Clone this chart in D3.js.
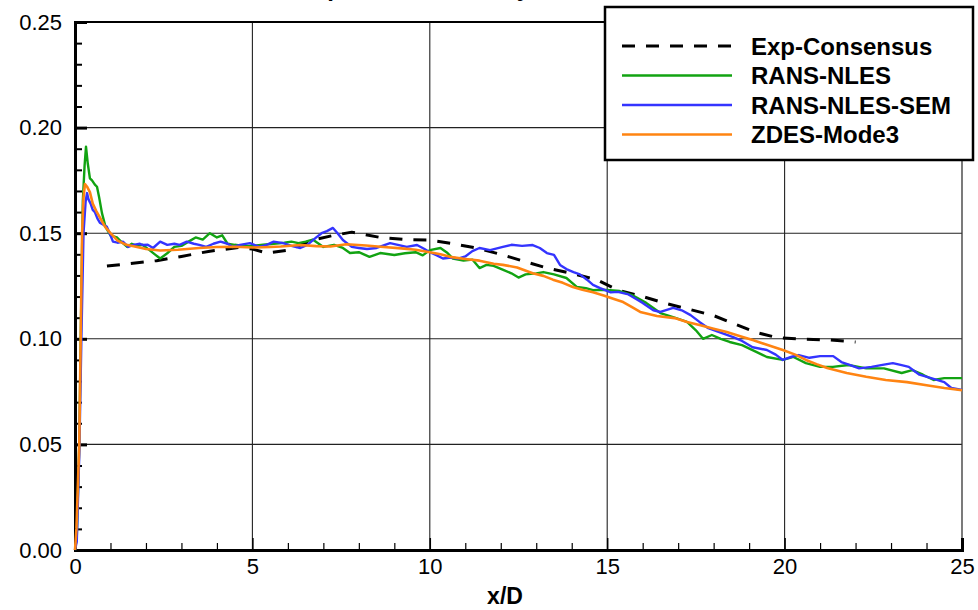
<!DOCTYPE html>
<html>
<head>
<meta charset="utf-8">
<script src="https://cdn.jsdelivr.net/npm/d3@7"></script>
<style>
  body { margin: 0; background: #fff; }
  svg { display: block; font-family: "Liberation Sans", Arial, Helvetica, sans-serif; }
</style>
</head>
<body>
<div id="chart"></div>
<script>
// tick values
var xTicks = [0, 5, 10, 15, 20, 25];
var xMinor = [1, 2, 3, 4, 6, 7, 8, 9, 11, 12, 13, 14, 16, 17, 18, 19, 21, 22, 23, 24];
var yTicks = [0, 0.05, 0.10, 0.15, 0.20, 0.25];
var yMinor = [0.01, 0.02, 0.03, 0.04, 0.06, 0.07, 0.08, 0.09, 0.11, 0.12, 0.13, 0.14,
              0.16, 0.17, 0.18, 0.19, 0.21, 0.22, 0.23, 0.24];

var seriesNames = ["Exp-Consensus", "RANS-NLES", "RANS-NLES-SEM", "ZDES-Mode3"];

// [x/D, value]
var expConsensus = [[0.9,0.1345],[1.5,0.1355],[2.3,0.137],[3.0,0.139],[3.8,0.1415],[4.6,0.1432],
  [5.0,0.1425],[5.4,0.1406],[6.0,0.142],[6.7,0.1468],[7.3,0.149],[7.8,0.1505],[8.6,0.148],
  [9.3,0.147],[10.0,0.1468],[10.6,0.1452],[11.3,0.143],[12.0,0.140],[12.6,0.137],[13.3,0.1335],
  [14.0,0.131],[14.7,0.128],[15.3,0.123],[16.0,0.120],[16.6,0.117],[17.3,0.114],[18.0,0.111],
  [18.6,0.107],[19.2,0.103],[19.8,0.1005],[20.5,0.0998],[21.3,0.0994],[22.0,0.0985]];

var ransNles = [[0,0],[0.05,0.006],[0.12,0.05],[0.17,0.11],[0.22,0.165],[0.27,0.182],[0.31,0.191],
  [0.36,0.183],[0.42,0.176],[0.48,0.175],[0.56,0.173],[0.62,0.172],[0.68,0.167],[0.76,0.1595],
  [0.86,0.153],[1.0,0.149],[1.18,0.148],[1.3,0.146],[1.47,0.1435],[1.6,0.145],[1.75,0.144],
  [1.9,0.1445],[2.1,0.142],[2.25,0.14],[2.4,0.138],[2.6,0.1405],[2.8,0.1435],[3.0,0.144],
  [3.2,0.146],[3.4,0.148],[3.6,0.147],[3.8,0.150],[4.0,0.148],[4.15,0.149],[4.3,0.145],
  [4.5,0.1445],[4.75,0.144],[5.0,0.144],[5.3,0.1445],[5.6,0.145],[5.9,0.1455],[6.1,0.146],
  [6.3,0.1453],[6.5,0.146],[6.7,0.147],[7.0,0.1435],[7.3,0.1445],[7.55,0.143],[7.75,0.1406],
  [8.0,0.141],[8.3,0.1388],[8.6,0.1406],[9.0,0.1397],[9.3,0.1405],[9.6,0.141],[9.8,0.1395],
  [10.0,0.142],[10.3,0.143],[10.5,0.1406],[10.65,0.138],[10.95,0.137],[11.2,0.1375],[11.4,0.1335],
  [11.6,0.135],[11.8,0.1345],[12.07,0.1326],[12.3,0.131],[12.5,0.129],[12.7,0.1305],[13.0,0.131],
  [13.2,0.1316],[13.5,0.1305],[13.85,0.1288],[14.15,0.1245],[14.4,0.124],[14.6,0.123],
  [14.85,0.1232],[15.08,0.123],[15.35,0.1226],[15.7,0.1207],[16.1,0.117],[16.5,0.1122],
  [16.9,0.110],[17.25,0.108],[17.5,0.104],[17.7,0.100],[17.95,0.1018],[18.2,0.100],[18.45,0.0985],
  [18.8,0.097],[19.2,0.0938],[19.5,0.0914],[19.95,0.090],[20.25,0.0914],[20.6,0.0885],
  [21.0,0.0867],[21.36,0.0867],[21.8,0.0876],[22.3,0.086],[22.8,0.086],[23.3,0.0838],
  [23.6,0.0852],[23.9,0.083],[24.2,0.0805],[24.5,0.0814],[25.0,0.0814]];

var ransNlesSem = [[0,0],[0.05,0.004],[0.12,0.045],[0.18,0.10],[0.24,0.15],[0.30,0.165],[0.34,0.169],
  [0.38,0.166],[0.44,0.164],[0.5,0.161],[0.56,0.160],[0.63,0.157],[0.7,0.155],[0.8,0.154],
  [0.9,0.153],[1.0,0.149],[1.07,0.146],[1.2,0.1455],[1.35,0.146],[1.5,0.1435],[1.65,0.1445],
  [1.83,0.145],[1.92,0.1444],[2.05,0.1445],[2.2,0.143],[2.4,0.146],[2.6,0.1445],[2.8,0.145],
  [2.95,0.1445],[3.15,0.146],[3.35,0.145],[3.5,0.1445],[3.7,0.1435],[3.9,0.145],[4.1,0.146],
  [4.3,0.145],[4.45,0.1435],[4.65,0.1445],[4.93,0.1453],[5.2,0.1435],[5.4,0.1445],[5.6,0.146],
  [5.87,0.1453],[6.1,0.144],[6.35,0.143],[6.55,0.1445],[6.8,0.148],[6.95,0.150],[7.1,0.151],
  [7.27,0.1525],[7.4,0.150],[7.55,0.1468],[7.8,0.1435],[8.0,0.143],[8.23,0.1425],[8.5,0.143],
  [8.88,0.1453],[9.1,0.1445],[9.35,0.1435],[9.64,0.1444],[9.85,0.1425],[10.0,0.141],[10.2,0.1395],
  [10.37,0.138],[10.6,0.1385],[10.8,0.138],[11.0,0.139],[11.2,0.1415],[11.4,0.143],[11.7,0.142],
  [12.06,0.1435],[12.3,0.1445],[12.6,0.144],[12.9,0.1444],[13.1,0.143],[13.3,0.1406],[13.5,0.1397],
  [13.67,0.135],[13.85,0.133],[14.05,0.1316],[14.23,0.1305],[14.43,0.128],[14.6,0.1255],
  [14.8,0.124],[15.1,0.122],[15.3,0.1222],[15.6,0.121],[15.85,0.1185],[16.0,0.117],[16.3,0.1135],
  [16.5,0.1127],[16.86,0.1146],[17.1,0.1135],[17.35,0.1112],[17.6,0.108],[17.85,0.105],
  [18.1,0.1035],[18.55,0.1008],[18.8,0.099],[19.1,0.096],[19.5,0.0947],[19.75,0.0925],[19.95,0.090],
  [20.2,0.0915],[20.4,0.0923],[20.7,0.091],[21.0,0.0918],[21.37,0.0918],[21.6,0.089],[21.85,0.0875],
  [22.1,0.086],[22.45,0.0867],[22.8,0.0878],[23.05,0.0885],[23.3,0.0875],[23.5,0.0867],
  [23.8,0.083],[24.2,0.081],[24.5,0.0795],[24.7,0.0767],[25.0,0.0758]];

var zdesMode3 = [[0,0],[0.04,0.01],[0.08,0.03],[0.12,0.05],[0.16,0.10],[0.20,0.15],[0.24,0.167],
  [0.28,0.1733],[0.34,0.172],[0.42,0.1695],[0.5,0.164],[0.6,0.1605],[0.7,0.1575],[0.85,0.153],
  [1.0,0.150],[1.2,0.1465],[1.45,0.1445],[1.75,0.1435],[2.0,0.1425],[2.4,0.1418],[2.9,0.1422],
  [3.5,0.143],[4.0,0.1435],[4.5,0.1436],[5.0,0.1432],[5.5,0.1435],[5.8,0.1437],[6.35,0.1444],
  [6.8,0.1439],[7.2,0.1437],[7.65,0.1448],[8.2,0.1442],[8.7,0.1435],[9.2,0.1428],[9.6,0.1422],
  [10.0,0.141],[10.3,0.140],[10.57,0.1388],[11.0,0.1378],[11.4,0.137],[11.8,0.1355],[12.06,0.135],
  [12.46,0.1338],[12.9,0.131],[13.2,0.1298],[13.47,0.128],[13.75,0.1265],[14.03,0.1245],
  [14.3,0.1232],[14.6,0.122],[14.9,0.1205],[15.17,0.119],[15.45,0.1174],[15.7,0.115],
  [15.93,0.1127],[16.4,0.1108],[16.9,0.1098],[17.25,0.108],[17.6,0.1065],[18.0,0.1048],
  [18.37,0.1032],[18.75,0.1012],[19.1,0.0994],[19.5,0.0972],[19.95,0.0947],[20.3,0.0925],
  [20.6,0.090],[20.9,0.088],[21.2,0.0862],[21.75,0.0838],[22.3,0.082],[22.85,0.0805],
  [23.45,0.0795],[24.0,0.078],[24.5,0.0767],[25.0,0.0756]];

// set the dimensions and margins of the graph
var W = 978, H = 610;
var margin = { top: 22, right: 16, bottom: 60, left: 75 },
    width = W - margin.left - margin.right,
    height = H - margin.top - margin.bottom;

var svg = d3.select("#chart")
    .append("svg")
    .attr("width", W)
    .attr("height", H);

var g = svg.append("g")
    .attr("transform", "translate(" + margin.left + "," + margin.top + ")");

var x = d3.scaleLinear().domain([0, 25]).range([0, width]);
var y = d3.scaleLinear().domain([0, 0.25]).range([height, 0]);

// title (mostly cut off at the top, as in the original)
svg.append("text")
    .attr("x", 306)
    .attr("y", -4)
    .style("font-size", "24px")
    .style("font-weight", "bold")
    .text("Lipline rms velocity");

// grid
g.append("g").selectAll("line")
    .data(xTicks.slice(1, -1))
    .enter().append("line")
    .attr("x1", function (d) { return x(d); })
    .attr("x2", function (d) { return x(d); })
    .attr("y1", 0).attr("y2", height)
    .attr("stroke", "#222").attr("stroke-width", 1.1);

g.append("g").selectAll("line")
    .data(yTicks.slice(1, -1))
    .enter().append("line")
    .attr("y1", function (d) { return y(d); })
    .attr("y2", function (d) { return y(d); })
    .attr("x1", 0).attr("x2", width)
    .attr("stroke", "#222").attr("stroke-width", 1.1);

// right & top frame
g.append("line").attr("x1", width).attr("x2", width).attr("y1", 0).attr("y2", height)
    .attr("stroke", "#333").attr("stroke-width", 1.3);
g.append("line").attr("x1", 0).attr("x2", width).attr("y1", 0).attr("y2", 0)
    .attr("stroke", "#000").attr("stroke-width", 2);

// minor ticks
g.append("g")
    .attr("transform", "translate(0," + height + ")")
    .call(d3.axisBottom(x).tickValues(xMinor).tickSize(-7).tickFormat(""))
    .call(function (a) { a.select(".domain").remove(); a.selectAll("line").attr("stroke-width", 1.2); });

g.append("g")
    .call(d3.axisLeft(y).tickValues(yMinor).tickSize(-7).tickFormat(""))
    .call(function (a) { a.select(".domain").remove(); a.selectAll("line").attr("stroke-width", 2); });

// major axes
var xAxis = g.append("g")
    .attr("transform", "translate(0," + height + ")")
    .call(d3.axisBottom(x).tickValues(xTicks).tickSize(-12).tickPadding(8).tickFormat(d3.format("d")));
xAxis.select(".domain").attr("stroke-width", 3);
xAxis.selectAll("line").attr("stroke-width", 1.5);
xAxis.selectAll("text").style("font-size", "22px").attr("fill", "#000");

var yAxis = g.append("g")
    .call(d3.axisLeft(y).tickValues(yTicks).tickSize(-12).tickPadding(13).tickFormat(d3.format(".2f")));
yAxis.select(".domain").attr("stroke-width", 3);
yAxis.selectAll("line").attr("stroke-width", 3);
yAxis.selectAll("text").style("font-size", "22px").attr("fill", "#000");

// axis label
svg.append("text")
    .attr("x", 505)
    .attr("y", 604)
    .attr("text-anchor", "middle")
    .style("font-size", "23px")
    .style("font-weight", "bold")
    .text("x/D");

// lines
var line = d3.line()
    .x(function (d) { return x(d[0]); })
    .y(function (d) { return y(d[1]); });

var series = [
  { name: seriesNames[0], data: expConsensus, color: "#000", width: 3, dash: "13,11" },
  { name: seriesNames[1], data: ransNles, color: "#12a312", width: 2.4, dash: null },
  { name: seriesNames[2], data: ransNlesSem, color: "#3434ff", width: 2.4, dash: null },
  { name: seriesNames[3], data: zdesMode3, color: "#ff8412", width: 2.6, dash: null }
];

series.forEach(function (s) {
  g.append("path")
      .datum(s.data)
      .attr("fill", "none")
      .attr("stroke", s.color)
      .attr("stroke-width", s.width)
      .attr("stroke-dasharray", s.dash)
      .attr("stroke-linejoin", "round")
      .attr("d", line);
});

// legend
var lg = svg.append("g").attr("transform", "translate(605,7)");
lg.append("rect")
    .attr("width", 368).attr("height", 153)
    .attr("fill", "#fff").attr("stroke", "#000").attr("stroke-width", 2.5);

series.forEach(function (s, i) {
  var ly = 39 + i * 29.5;
  lg.append("line")
      .attr("x1", 17).attr("x2", 127)
      .attr("y1", ly).attr("y2", ly)
      .attr("stroke", s.color)
      .attr("stroke-width", s.dash ? 3 : 2.6)
      .attr("stroke-dasharray", s.dash);
  lg.append("text")
      .attr("x", 146)
      .attr("y", ly + 8.5)
      .style("font-size", "24px")
      .style("font-weight", "bold")
      .text(s.name);
});
</script>
</body>
</html>
